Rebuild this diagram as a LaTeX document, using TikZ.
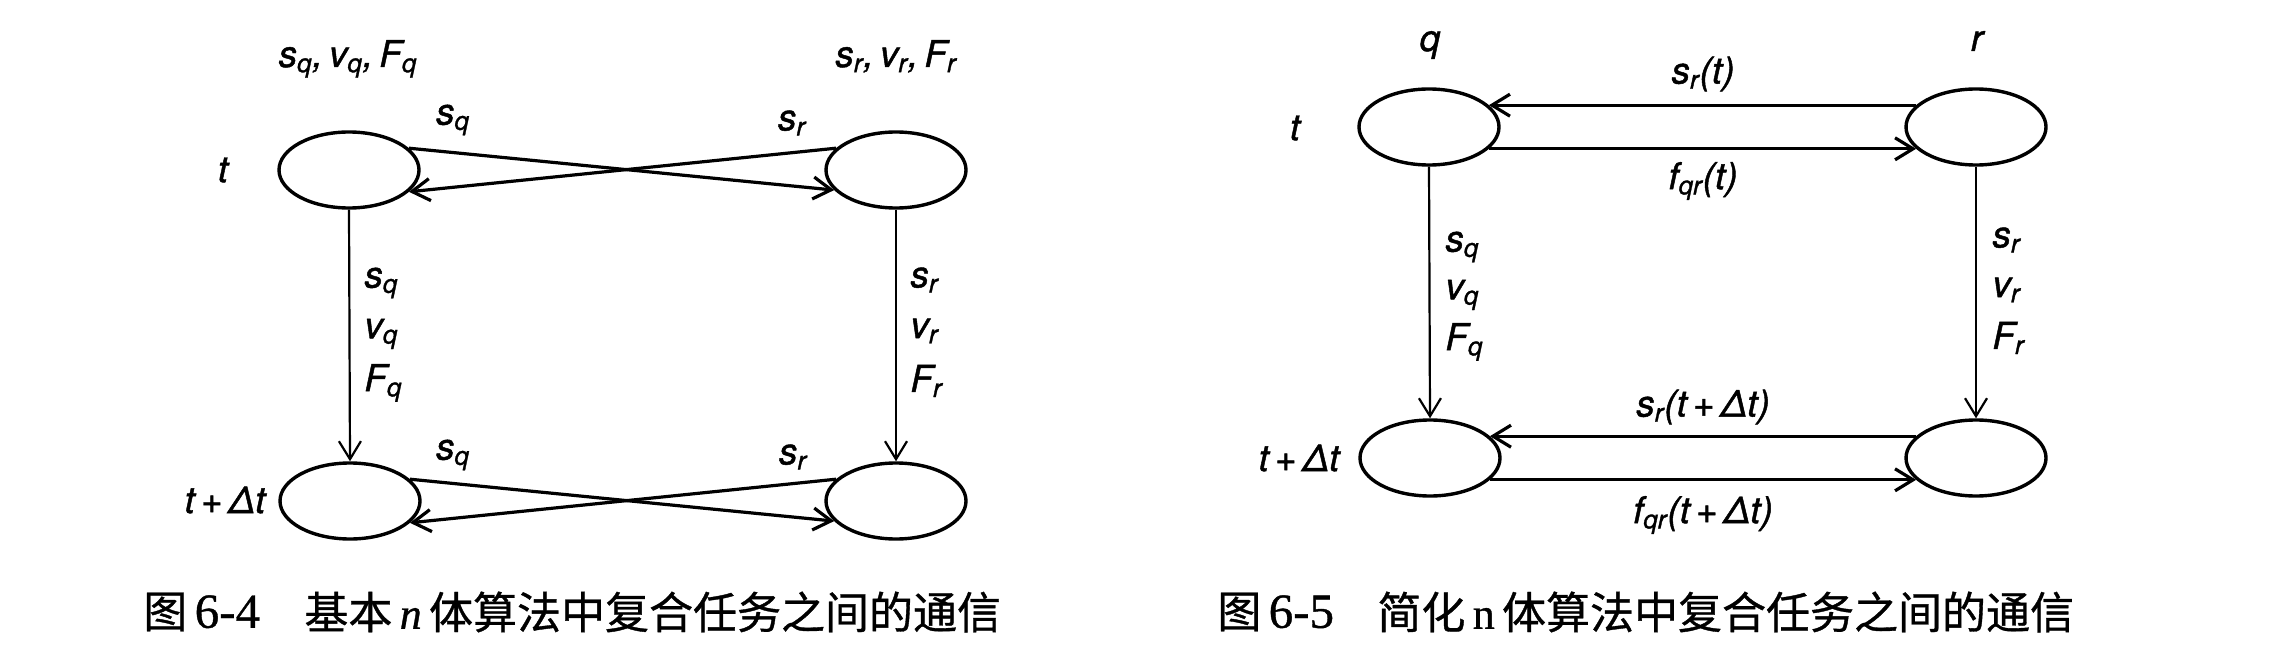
\documentclass[tikz,border=0pt]{standalone}
\usepackage{fontspec}
\setmainfont{TeX Gyre Heros}
\newfontfamily\labfont[FakeBold=1.2]{TeX Gyre Heros}
\newfontfamily\cjkfont[FakeBold=0.8]{Noto Sans CJK SC}
\newfontfamily\seriffont[FakeBold=0.8]{Liberation Serif}
\usetikzlibrary{arrows.meta,shapes.geometric}
\newcommand\vsub[2]{#1\textsubscript{#2}}
\newcommand\capnum[1]{{\fontsize{24.5pt}{26pt}\selectfont\seriffont #1}}
\tikzset{
  ell/.style={ellipse, draw, line width=1.7pt, minimum width=70pt, minimum height=38pt, inner sep=0pt},
  arr/.style={-{Straight Barb[length=9pt,width=11pt]}},
  vline/.style={line width=1.1pt, arr},
  xline/.style={line width=1.6pt, arr},
  lab/.style={inner sep=0pt, font=\fontsize{18.5pt}{22pt}\selectfont\labfont\itshape},
  captext/.style={inner sep=0pt, anchor=west, font=\fontsize{22pt}{26pt}\selectfont\cjkfont},
}
\begin{document}
\begin{tikzpicture}[x=0.5pt, y=-0.5pt]
\path[use as bounding box] (0,0) rectangle (2291,668);

% ---------- Figure 6-4 ----------
\node[ell] (a1) at (349,170) {};
\node[ell] (a2) at (896,170) {};
\node[ell] (a3) at (350,501) {};
\node[ell] (a4) at (896,501) {};

\draw[xline] (a1.20) -- (a2.198);
\draw[xline] (a2.160) -- (a1.-20);
\draw[xline] (a3.20) -- (a4.198);
\draw[xline] (a4.160) -- (a3.-20);
\draw[vline] (a1.south) -- (a3.north);
\draw[vline] (a2.south) -- (a4.north);

\node[lab, anchor=base] (la1) at (348,67) {\vsub{s}{q},\,\vsub{v}{q},\,\vsub{F}{q}};
\node[lab, anchor=base] (la2) at (896,67) {\vsub{s}{r},\,\vsub{v}{r},\,\vsub{F}{r}};
\node[lab] (ta1) at (223,170) {t};
\node[lab] (ta2) at (225,500) {t\,+\,Δt};
\node[lab] (ca1) at (453,120) {\vsub{s}{q}};
\node[lab] (ca2) at (792,123) {\vsub{s}{r}};
\node[lab] (ca3) at (453,455) {\vsub{s}{q}};
\node[lab] (ca4) at (793,457) {\vsub{s}{r}};
\node[lab, anchor=west] (va1) at (364,283) {\vsub{s}{q}};
\node[lab, anchor=west] (va2) at (364,334) {\vsub{v}{q}};
\node[lab, anchor=west] (va3) at (364,383) {\vsub{F}{q}};
\node[lab, anchor=west] (vb1) at (910,280) {\vsub{s}{r}};
\node[lab, anchor=west] (vb2) at (910,331) {\vsub{v}{r}};
\node[lab, anchor=west] (vb3) at (910,381) {\vsub{F}{r}};

\node[captext] (capa1) at (143,612) {图\,\capnum{6-4}};
\node[captext] (capa2) at (304,612) {基本\,{\seriffont\itshape n}\,体算法中复合任务之间的通信};

% ---------- Figure 6-5 ----------
\node[ell] (b1) at (1429,127) {};
\node[ell] (b2) at (1976,127) {};
\node[ell] (b3) at (1430,458) {};
\node[ell] (b4) at (1976,458) {};

\draw[xline] (b2.160) -- (b1.20);
\draw[xline] (b1.-20) -- (b2.200);
\draw[xline] (b4.160) -- (b3.20);
\draw[xline] (b3.-20) -- (b4.200);
\draw[vline] (b1.south) -- (b3.north);
\draw[vline] (b2.south) -- (b4.north);

\node[lab, anchor=base] (q) at (1430,51) {q};
\node[lab, anchor=base] (r) at (1977,51) {r};
\node[lab] (tb1) at (1295,128) {t};
\node[lab] (tb2) at (1299,458) {t\,+\,Δt};
\node[lab] (m1) at (1703,74) {\vsub{s}{r}(t)};
\node[lab] (m2) at (1703,181) {\vsub{f}{qr}(t)};
\node[lab] (m3) at (1703,407) {\vsub{s}{r}(t\,+\,Δt)};
\node[lab] (m4) at (1703,515) {\vsub{f}{qr}(t\,+\,Δt)};
\node[lab, anchor=west] (vc1) at (1445,247) {\vsub{s}{q}};
\node[lab, anchor=west] (vc2) at (1445,295) {\vsub{v}{q}};
\node[lab, anchor=west] (vc3) at (1445,342) {\vsub{F}{q}};
\node[lab, anchor=west] (vd1) at (1992,240) {\vsub{s}{r}};
\node[lab, anchor=west] (vd2) at (1992,290) {\vsub{v}{r}};
\node[lab, anchor=west] (vd3) at (1992,338) {\vsub{F}{r}};

\node[captext] (capb1) at (1217,612) {图\,\capnum{6-5}};
\node[captext] (capb2) at (1377,612) {简化\,{\seriffont n}\,体算法中复合任务之间的通信};
\end{tikzpicture}
\end{document}
